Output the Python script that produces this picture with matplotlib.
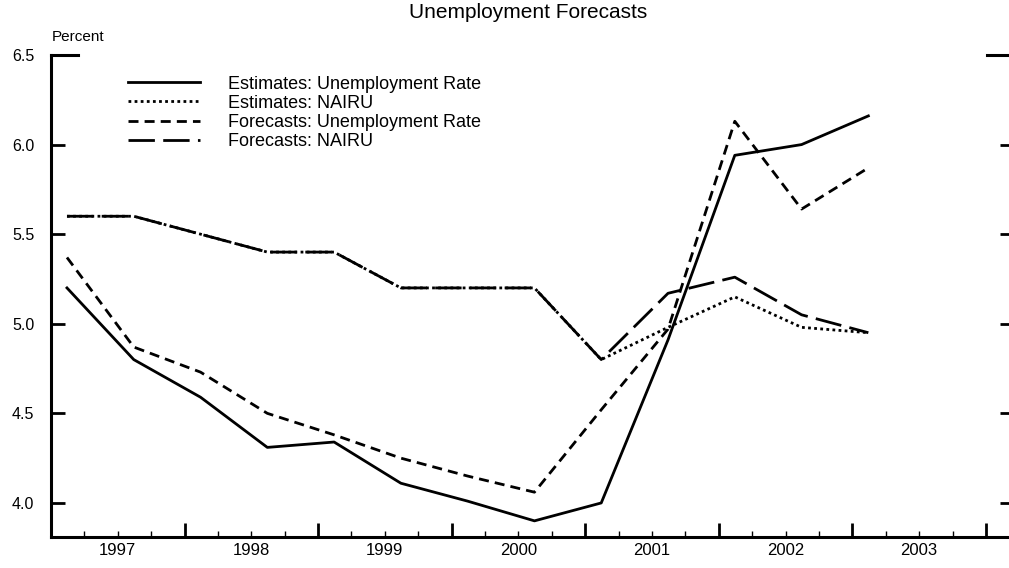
import matplotlib
matplotlib.use("Agg")
import matplotlib.pyplot as plt
import numpy as np

plt.rcParams["font.family"] = ["Liberation Sans", "DejaVu Sans"]

# semiannual observation dates (fractional years)
dates = [1997.12, 1997.62, 1998.12, 1998.62, 1999.12, 1999.62, 2000.12,
         2000.62, 2001.12, 2001.62, 2002.12, 2002.62, 2003.12]

est_unemp = [5.20, 4.80, 4.59, 4.31, 4.34, 4.11, 4.01, 3.90, 4.00, 4.91, 5.94, 6.00, 6.16]
est_nairu = [5.60, 5.60, 5.50, 5.40, 5.40, 5.20, 5.20, 5.20, 4.80, 4.98, 5.15, 4.98, 4.95]
fc_unemp = [5.37, 4.87, 4.73, 4.50, 4.38, 4.25, 4.15, 4.06, 4.52, 4.97, 6.13, 5.64, 5.87]
fc_nairu = [5.60, 5.60, 5.50, 5.40, 5.40, 5.20, 5.20, 5.20, 4.80, 5.17, 5.26, 5.05, 4.95]

years = [1997, 1998, 1999, 2000, 2001, 2002, 2003]
y_ticks = [4.0, 4.5, 5.0, 5.5, 6.0, 6.5]

fig = plt.figure(figsize=(10.09, 5.68), dpi=100)
ax = fig.add_axes([0.0505, 0.0546, 0.9544, 0.8486])

lw = 2.0
ax.plot(dates, est_unemp, color="black", lw=lw, ls="-",
        label="Estimates: Unemployment Rate")
ax.plot(dates, est_nairu, color="black", lw=lw, ls=(0, (1.0, 1.2)),
        label="Estimates: NAIRU")
ax.plot(dates, fc_unemp, color="black", lw=lw, ls=(0, (3.6, 2.2)),
        label="Forecasts: Unemployment Rate")
ax.plot(dates, fc_nairu, color="black", lw=lw, ls=(0, (9.5, 3.0)),
        label="Forecasts: NAIRU")

ax.set_xlim(1997.0, 2004.21)
ax.set_ylim(3.81, 6.5)

for side in ["top", "right"]:
    ax.spines[side].set_visible(False)
for side in ["left", "bottom"]:
    ax.spines[side].set_linewidth(2.2)

ax.set_yticks(y_ticks)
ax.set_yticklabels([f"{v:.1f}" for v in y_ticks])
ax.tick_params(axis="y", direction="in", length=10, width=2, left=True, right=True,
               labelsize=11.5, pad=12)

ax.set_xticks(list(range(1997, 2005)))
ax.set_xticks(np.arange(1997, 2004.01, 0.25), minor=True)
ax.set_xticklabels([])
ax.tick_params(axis="x", which="major", direction="in", length=10, width=2)
ax.tick_params(axis="x", which="minor", direction="in", length=4, width=1)

# longer tick at the top of the scale
ax.plot([0, 0.028], [1, 1], transform=ax.transAxes, color="black", lw=2.2, clip_on=False)
ax.plot([0.972, 1.0], [1, 1], transform=ax.transAxes, color="black", lw=2.2, clip_on=False)

for yr in years:
    ax.text(yr + 0.5, -0.012, str(yr), transform=ax.get_xaxis_transform(),
            ha="center", va="top", fontsize=12)

fig.text(0.0515, 0.935, "Percent", fontsize=11, ha="left", va="center")
fig.text(0.523, 0.978, "Unemployment Forecasts", fontsize=15, ha="center", va="center")

ax.legend(loc="upper left", bbox_to_anchor=(0.127, 0.867), bbox_transform=fig.transFigure,
          frameon=False, fontsize=13, handlelength=4.0, handletextpad=1.55,
          labelspacing=0.12, borderpad=0, borderaxespad=0)

fig.savefig("out.png", dpi=100)
